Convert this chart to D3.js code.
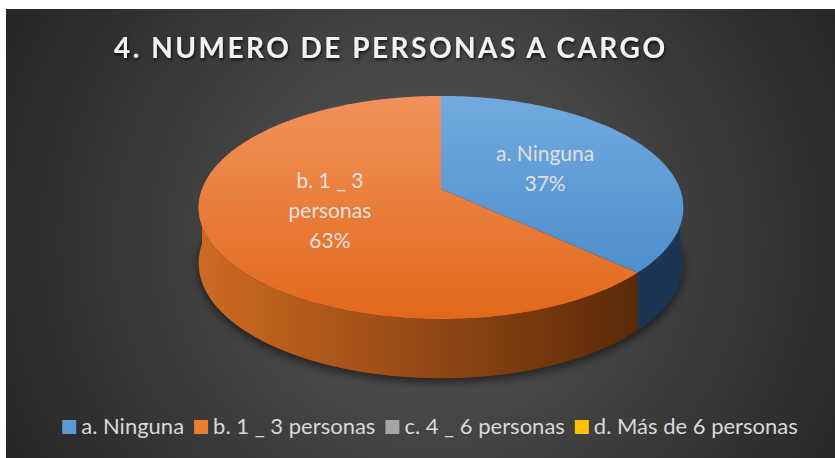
<!DOCTYPE html>
<html>
<head>
<meta charset="utf-8">
<script src="https://cdn.jsdelivr.net/npm/d3@7"></script>
<style>
  body { margin: 0; background: #fff; }
  svg text { font-family: Lato, "Open Sans", sans-serif; }
</style>
</head>
<body>
<svg id="chart"></svg>
<script>
// data
const categories = ["a. Ninguna", "b. 1 _ 3 personas", "c. 4 _ 6 personas", "d. Más de 6 personas"];
const values = [37, 63, 0, 0];
const sliceLabels = [["a. Ninguna", "37%"], ["b. 1 _ 3", "personas", "63%"], [], []];
const colors = ["#5b9bd5", "#ed7d31", "#a5a5a5", "#ffc000"];
const chartTitle = "4. NUMERO DE PERSONAS A CARGO";

const width = 835, height = 458;

const svg = d3.select("#chart")
    .attr("width", width)
    .attr("height", height);

const defs = svg.append("defs");

// background gradient
const bg = defs.append("radialGradient")
    .attr("id", "bg")
    .attr("gradientUnits", "userSpaceOnUse")
    .attr("cx", 430).attr("cy", 240).attr("r", 470);
bg.append("stop").attr("offset", 0).attr("stop-color", "#5a5a5a");
bg.append("stop").attr("offset", 1).attr("stop-color", "#262626");

// top faces
const topGrad = [
    ["#72aadf", "#4387c8"],
    ["#f0925c", "#e2681a"],
    ["#bdbdbd", "#9a9a9a"],
    ["#ffcf40", "#f0b400"]
];
topGrad.forEach((c, i) => {
    const g = defs.append("linearGradient")
        .attr("id", "top" + i)
        .attr("gradientUnits", "userSpaceOnUse")
        .attr("x1", 0).attr("y1", 96).attr("x2", 0).attr("y2", 320);
    g.append("stop").attr("offset", 0).attr("stop-color", c[0]);
    g.append("stop").attr("offset", 1).attr("stop-color", c[1]);
});

// side walls
const sideGrad = [
    ["#25466a", "#1b3552"],
    ["#cf6a22", "#5a2908"],
    ["#7a7a7a", "#444"],
    ["#c08a00", "#6a4d00"]
];
sideGrad.forEach((c, i) => {
    const g = defs.append("linearGradient")
        .attr("id", "side" + i)
        .attr("gradientUnits", "userSpaceOnUse")
        .attr("x1", 200).attr("y1", 0).attr("x2", 640).attr("y2", 0);
    g.append("stop").attr("offset", 0).attr("stop-color", c[0]);
    g.append("stop").attr("offset", 1).attr("stop-color", c[1]);
});

const shadow = defs.append("filter").attr("id", "tshadow")
    .attr("x", "-10%").attr("y", "-30%").attr("width", "120%").attr("height", "160%");
shadow.append("feDropShadow")
    .attr("dx", 1).attr("dy", 2).attr("stdDeviation", 1.5)
    .attr("flood-color", "#000").attr("flood-opacity", 0.7);

const blur = defs.append("filter").attr("id", "blur")
    .attr("x", "-20%").attr("y", "-50%").attr("width", "140%").attr("height", "200%");
blur.append("feGaussianBlur").attr("stdDeviation", 5);

svg.append("rect")
    .attr("x", 6).attr("y", 9)
    .attr("width", width - 6).attr("height", height - 9)
    .attr("fill", "url(#bg)");

// title
svg.append("text")
    .attr("x", 114).attr("y", 58)
    .attr("textLength", 551)
    .attr("lengthAdjust", "spacing")
    .attr("font-size", 28)
    .attr("font-weight", "bold")
    .attr("fill", "#f2f2f2")
    .attr("filter", "url(#tshadow)")
    .text(chartTitle);

// 3D pie projection (tilted disk with a little perspective)
const cx = 441, cy = 189, rx = 239, ry = 108.5, k = 0.166, depth = 55;

function proj(a, r = 1) {
    const X = r * Math.sin(a), Z = r * Math.cos(a);
    const s = 1 / (1 + k * Z);
    return [cx + rx * X * s, cy - ry * Z * s];
}
function projBottom(a) {
    const p = proj(a);
    const s = 1 / (1 + k * Math.cos(a));
    return [p[0], p[1] + depth * Math.pow(s, 0.4)];
}
function samples(a0, a1) {
    const n = Math.max(2, Math.ceil((a1 - a0) / 0.02));
    return d3.range(n + 1).map(i => a0 + (a1 - a0) * i / n);
}

const line = d3.line();
const arcs = d3.pie().sort(null).value(d => d)(values);

const pieG = svg.append("g");

// soft shadow under the pie
pieG.append("path")
    .attr("d", line(samples(0, 2 * Math.PI).map(a => {
        const p = projBottom(a);
        return [p[0], p[1] + 4];
    })) + "Z")
    .attr("fill", "#000")
    .attr("opacity", 0.55)
    .attr("filter", "url(#blur)");

// walls: only the front half is visible
arcs.forEach((d, i) => {
    if (d.endAngle - d.startAngle <= 0) return;
    const a0 = Math.max(d.startAngle, Math.PI / 2);
    const a1 = Math.min(d.endAngle, 3 * Math.PI / 2);
    if (a1 <= a0) return;
    const as = samples(a0, a1);
    const pts = as.map(a => proj(a)).concat(as.slice().reverse().map(projBottom));
    pieG.append("path")
        .attr("d", line(pts) + "Z")
        .attr("fill", `url(#side${i})`);
});

// top faces
arcs.forEach((d, i) => {
    if (d.endAngle - d.startAngle <= 0) return;
    const pts = [proj(0, 0)].concat(samples(d.startAngle, d.endAngle).map(a => proj(a)));
    pieG.append("path")
        .attr("d", line(pts) + "Z")
        .attr("fill", `url(#top${i})`);
});

// slice labels
arcs.forEach((d, i) => {
    const lines = sliceLabels[i];
    if (!lines.length) return;
    const mid = (d.startAngle + d.endAngle) / 2;
    const p = proj(mid, 0.49);
    const lh = 30;
    const t = pieG.append("text")
        .attr("text-anchor", "middle")
        .attr("font-size", 21)
        .attr("fill", "#e0e0e0");
    lines.forEach((l, j) => {
        t.append("tspan")
            .attr("x", p[0])
            .attr("y", p[1] + (j - (lines.length - 1) / 2) * lh + 7)
            .text(l);
    });
});

// legend
const legend = svg.append("g");
const legFont = 22, sq = 14, gapSq = 5, gapItem = 10;
const items = categories.map((c, i) => {
    const g = legend.append("g");
    g.append("rect")
        .attr("width", sq).attr("height", sq)
        .attr("y", -sq)
        .attr("fill", colors[i]);
    const t = g.append("text")
        .attr("x", sq + gapSq)
        .attr("font-size", legFont)
        .attr("fill", "#d9d9d9")
        .text(c);
    return {g: g, w: sq + gapSq + t.node().getComputedTextLength()};
});
const total = d3.sum(items, d => d.w) + gapItem * (items.length - 1);
let lx = 430 - total / 2;
items.forEach(it => {
    it.g.attr("transform", `translate(${lx},434)`);
    lx += it.w + gapItem;
});
</script>
</body>
</html>
